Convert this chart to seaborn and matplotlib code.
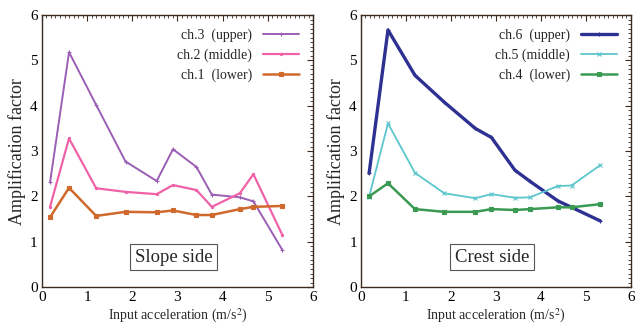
import matplotlib
matplotlib.use("Agg")
import matplotlib.pyplot as plt
import numpy as np
import pandas as pd
import seaborn as sns
from matplotlib.ticker import MultipleLocator

# input acceleration (m/s^2), shared by all channels
accel = [0.18, 0.60, 1.20, 1.85, 2.54, 2.90, 3.42, 3.76, 4.38, 4.68, 5.32]

# slope side
ch3_upper = [2.31, 5.18, 4.02, 2.77, 2.34, 3.04, 2.65, 2.04, 1.98, 1.89, 0.82]
ch2_middle = [1.77, 3.28, 2.18, 2.10, 2.05, 2.25, 2.14, 1.77, 2.07, 2.49, 1.15]
ch1_lower = [1.54, 2.19, 1.57, 1.66, 1.65, 1.69, 1.59, 1.59, 1.72, 1.77, 1.79]

# crest side
ch6_upper = [2.51, 5.67, 4.67, 4.08, 3.50, 3.30, 2.58, 2.33, 1.90, 1.76, 1.46]
ch5_middle = [1.99, 3.61, 2.52, 2.07, 1.96, 2.05, 1.97, 1.98, 2.23, 2.24, 2.69]
ch4_lower = [2.00, 2.29, 1.72, 1.66, 1.66, 1.72, 1.70, 1.72, 1.76, 1.76, 1.83]

slope_series = [
    ("ch.3  (upper)", ch3_upper, "#9a5fb4", "+", 1.4),
    ("ch.2 (middle)", ch2_middle, "#f062a8", ".", 1.6),
    ("ch.1  (lower)", ch1_lower, "#d0692c", "s", 1.8),
]
crest_series = [
    ("ch.6  (upper)", ch6_upper, "#2e3192", "+", 2.4),
    ("ch.5 (middle)", ch5_middle, "#5cc6cc", "x", 1.3),
    ("ch.4  (lower)", ch4_lower, "#3a9a52", "s", 1.8),
]

sns.set_theme(style="white")
plt.rcParams["font.family"] = ["Liberation Serif", "DejaVu Serif"]
plt.rcParams["mathtext.fontset"] = "stix"

fig = plt.figure(figsize=(6.35, 3.27), dpi=100)
ax_l = fig.add_axes([0.066, 0.122, 0.427, 0.832])
ax_r = fig.add_axes([0.5685, 0.122, 0.425, 0.832])


def draw_panel(ax, series, title):
    for label, vals, color, marker, lw in series:
        df = pd.DataFrame({"x": accel, "y": vals})
        sns.lineplot(
            data=df, x="x", y="y", ax=ax, color=color, linewidth=lw,
            marker=marker, markersize=3.2 if marker != "s" else 2.2,
            markeredgewidth=0.8, markeredgecolor=color, label=label,
        )
    ax.set_xlim(0, 6)
    ax.set_ylim(0, 6)
    ax.xaxis.set_major_locator(MultipleLocator(1))
    ax.yaxis.set_major_locator(MultipleLocator(1))
    ax.xaxis.set_minor_locator(MultipleLocator(0.1))
    ax.yaxis.set_minor_locator(MultipleLocator(0.1))
    ax.tick_params(which="both", direction="in", top=True, right=True,
                   colors="#3a2a20", labelcolor="black")
    ax.tick_params(which="major", length=4, width=0.8, labelsize=11, pad=3)
    ax.tick_params(which="minor", length=2, width=0.6)
    for sp in ax.spines.values():
        sp.set_color("#3a2a20")
        sp.set_linewidth(1.0)
    ax.set_xlabel("Input acceleration (m/s$^2$)", fontsize=10, labelpad=2)
    ax.set_ylabel("Amplification factor", fontsize=13, labelpad=3)
    ax.legend(loc="upper right", frameon=False, markerfirst=False,
              fontsize=10, handlelength=2.6, borderaxespad=0.6,
              labelspacing=0.45, handletextpad=0.8)
    ax.text(2.92, 0.66, title, fontsize=13.5, ha="center", va="center",
            bbox=dict(boxstyle="square,pad=0.25", facecolor="white",
                      edgecolor="#555555", linewidth=0.8))


draw_panel(ax_l, slope_series, "Slope side")
draw_panel(ax_r, crest_series, "Crest side")

fig.savefig("out.png", dpi=100)
